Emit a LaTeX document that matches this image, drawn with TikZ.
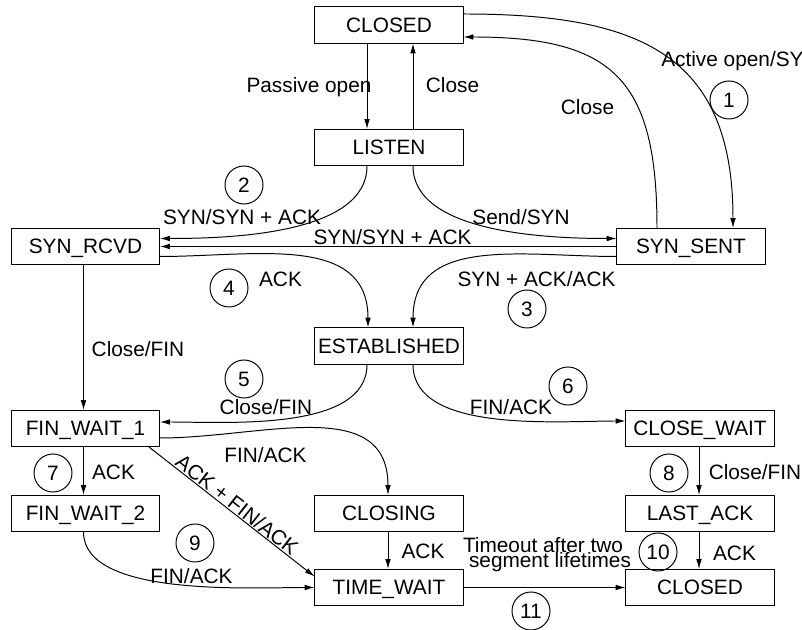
\documentclass[tikz,border=0pt]{standalone}
\usepackage{fontspec}
\setmainfont{Liberation Sans}
\usepackage{tikz}
\usetikzlibrary{arrows.meta,calc,shapes}
\tikzset{>={Latex[length=7pt,width=4pt]}}
\tikzset{
  state/.style={draw, rectangle, line width=0.7pt, minimum width=3.7cm, minimum height=0.9cm, text height=1.05em, text depth=0pt, inner sep=0pt},
  num/.style={draw, circle, line width=0.7pt, minimum size=0.95cm, inner sep=0pt},
  lab/.style={anchor=base, inner sep=0pt},
  trans/.style={->, line width=0.7pt, color=black}
}
\begin{document}
\begin{tikzpicture}[x=0.025cm, y=0.025cm, font=\fontsize{14.8}{17}\selectfont]

\useasboundingbox (0,0) rectangle (802,630);

\node[state] (closedTop) at (389,605) {CLOSED};
\node[state] (listen) at (389,482.5) {LISTEN};
\node[state] (synRcvd) at (85.5,383.5) {SYN\_RCVD};
\node[state] (synSent) at (691,383.5) {SYN\_SENT};
\node[state] (established) at (389,284) {ESTABLISHED};
\node[state] (finWaitOne) at (85.5,201.5) {FIN\_WAIT\_1};
\node[state] (finWaitTwo) at (85.5,116.5) {FIN\_WAIT\_2};
\node[state] (closing) at (389,116.5) {CLOSING};
\node[state] (timeWait) at (389,42.5) {TIME\_WAIT};
\node[state] (closeWait) at (700,201.5) {CLOSE\_WAIT};
\node[state] (lastAck) at (700,116.5) {LAST\_ACK};
\node[state] (closedBot) at (700,42.5) {CLOSED};

\draw[trans] ($(closedTop.south)+(-22,0)$) -- ($(listen.north)+(-22,0)$);
\draw[trans] ($(listen.north)+(24,0)$) -- ($(closedTop.south)+(24,0)$);
\draw[trans] ($(closedTop.east)+(0,11)$) to[out=0, in=90, looseness=1.3] ($(synSent.north)+(42,0)$);
\draw[trans] ($(synSent.north)+(-34,0)$) to[out=90, in=0, looseness=1.4] ($(closedTop.east)+(0,-12)$);

\draw[trans] ($(listen.south)+(-22,0)$) to[out=-90, in=0, looseness=0.8] ($(synRcvd.east)+(0,8)$);
\draw[trans] ($(listen.south)+(24,0)$) to[out=-90, in=180, looseness=0.8] ($(synSent.west)+(0,8)$);
\draw[trans] (synSent.west) -- (synRcvd.east);

\draw[trans] ($(synRcvd.east)+(0,-10)$) to[out=0, in=90, looseness=1.1] ($(established.north)+(-21,0)$);
\draw[trans] ($(synSent.west)+(0,-10)$) to[out=180, in=90, looseness=1.1] ($(established.north)+(24,0)$);
\draw[trans] ($(synRcvd.south)+(-2,0)$) -- ($(finWaitOne.north)+(-2,0)$);

\draw[trans] ($(established.south)+(-22,0)$) to[out=-90, in=0, looseness=0.8] ($(finWaitOne.east)+(0,6.5)$);
\draw[trans] ($(established.south)+(24,0)$) to[out=-90, in=180, looseness=0.8] ($(closeWait.west)+(0,7.5)$);

\draw[trans] ($(finWaitOne.south)+(-2,0)$) -- ($(finWaitTwo.north)+(-2,0)$);
\draw[trans] ($(finWaitOne.east)+(0,-9.5)$) to[out=0, in=90, looseness=1.1] ($(closing.north)+(-1,0)$);
\draw[trans] ($(finWaitOne.south east)+(-11,0)$) -- ($(timeWait.west)+(0,11)$) node[midway, sloped, anchor=base, inner sep=0pt, yshift=1pt] (labAckFin) {ACK + FIN/ACK};
\draw[trans] ($(finWaitTwo.south)+(-2,0)$) to[out=-90, in=180, looseness=0.7] (timeWait.west);
\draw[trans] ($(closing.south)+(-1,0)$) -- ($(timeWait.north)+(-1,0)$);

\draw[trans] ($(closeWait.south)+(-1,0)$) -- ($(lastAck.north)+(-1,0)$);
\draw[trans] ($(lastAck.south)+(-1,0)$) -- ($(closedBot.north)+(-1,0)$);
\draw[trans] (timeWait.east) -- (closedBot.west);

\node[lab] (labPassive) at (309,537) {Passive open};
\node[lab] (labCloseA) at (452.5,537) {Close};
\node[lab, anchor=base west] (labActive) at (661,563) {Active open/SY};
\node[lab] (labCloseB) at (587.5,515) {Close};
\node[lab] (labSynLeft) at (242,405) {SYN/SYN + ACK};
\node[lab] (labSend) at (521,405) {Send/SYN};
\node[lab] (labSynMid) at (392.5,385) {SYN/SYN + ACK};
\node[lab] (labAckFour) at (280.5,343) {ACK};
\node[lab] (labSynAck) at (536.5,343) {SYN + ACK/ACK};
\node[lab] (labCloseFinA) at (138,273) {Close/FIN};
\node[lab] (labCloseFinB) at (266,215) {Close/FIN};
\node[lab] (labFinAckA) at (511,215) {FIN/ACK};
\node[lab] (labAckSeven) at (113.5,150) {ACK};
\node[lab] (labFinAckB) at (265.5,167) {FIN/ACK};
\node[lab] (labFinAckC) at (191.5,46) {FIN/ACK};
\node[lab] (labAckClosing) at (423,71) {ACK};
\node[lab] (labCloseFinC) at (755,150) {Close/FIN};
\node[lab] (labAckTen) at (734.5,69) {ACK};
\node[lab] (labTimeoutA) at (543,77) {Timeout after two};
\node[lab] (labTimeoutB) at (550,62) {segment lifetimes};

\node[num] (n1) at (729,530) {1};
\node[num] (n2) at (244,445) {2};
\node[num] (n3) at (527,321) {3};
\node[num] (n4) at (229,342) {4};
\node[num] (n5) at (244,251) {5};
\node[num] (n6) at (568,244) {6};
\node[num] (n7) at (53,157) {7};
\node[num] (n8) at (669,157) {8};
\node[num] (n9) at (195,87) {9};
\node[num] (n10) at (658,78) {10};
\node[num] (n11) at (531,19) {11};

\end{tikzpicture}
\end{document}
